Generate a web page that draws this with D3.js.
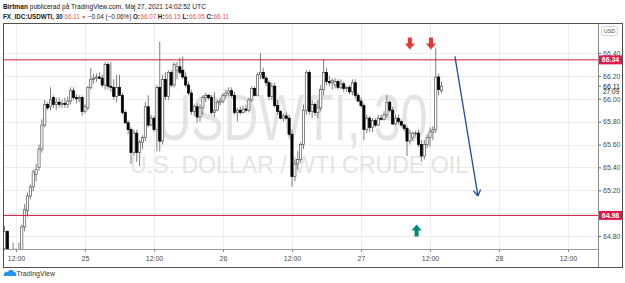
<!DOCTYPE html>
<html>
<head>
<meta charset="utf-8">
<script src="https://cdn.jsdelivr.net/npm/d3@7"></script>
<style>
  body { margin: 0; background: #fff; }
  svg { display: block; font-family: "Liberation Sans", Arial, sans-serif; }
</style>
</head>
<body>
<script>
// USDWTI 30 min candles (first bar 24 May 10:00 UTC)
const startTime = Date.UTC(2021, 4, 24, 10, 0)
const barMinutes = 30

const opens = [
  64.69, 64.84, 64.62, 64.56, 64.58, 64.62, 64.64, 64.88, 65.02, 65.15,
  65.23, 65.34, 65.40, 65.56, 65.77, 65.95, 65.93, 66.01, 65.95, 65.97,
  65.95, 65.96, 65.95, 65.98, 66.07, 66.01, 66.00, 66.01, 65.89, 65.92,
  66.10, 66.17, 66.18, 66.19, 66.18, 66.12, 66.30, 66.11, 66.10, 66.02,
  66.10, 66.03, 65.88, 65.79, 65.73, 65.53, 65.70, 65.53, 65.62, 65.66,
  65.93, 65.77, 65.83, 65.73, 66.10, 65.63, 66.17, 66.02, 66.23, 66.12,
  66.25, 66.28, 66.25, 66.19, 66.12, 66.05, 65.89, 65.93, 65.84, 65.92,
  66.01, 66.03, 66.01, 65.88, 65.90, 65.97, 65.98, 66.03, 66.05, 66.07,
  66.03, 65.88, 65.90, 65.88, 65.91, 65.90, 65.99, 66.09, 66.03, 66.21,
  66.23, 66.18, 66.14, 66.02, 66.11, 65.94, 65.89, 65.83, 65.85, 65.83,
  65.69, 65.32, 65.43, 65.47, 65.60, 65.90, 66.23, 65.89, 65.95, 65.88,
  65.92, 66.08, 66.23, 66.15, 66.14, 66.12, 66.15, 66.10, 66.13, 66.09,
  66.10, 66.06, 66.14, 66.03, 65.98, 65.94, 65.73, 65.83, 65.75, 65.81,
  65.77, 65.83, 65.82, 65.86, 65.97, 65.90, 65.78, 65.83, 65.80, 65.77,
  65.74, 65.63, 65.66, 65.70, 65.70, 65.60, 65.50, 65.60, 65.66, 65.71,
  65.73, 66.19, 66.07
]
const highs = [
  64.89, 64.85, 64.64, 64.74, 64.69, 64.74, 64.90, 65.08, 65.18, 65.25,
  65.38, 65.43, 65.60, 65.82, 65.99, 65.97, 66.10, 66.03, 66.01, 66.01,
  65.99, 66.01, 66.02, 66.10, 66.10, 66.04, 66.03, 66.03, 65.95, 66.11,
  66.27, 66.22, 66.22, 66.23, 66.21, 66.32, 66.32, 66.32, 66.17, 66.21,
  66.21, 66.05, 65.90, 65.81, 65.75, 65.73, 65.73, 65.64, 65.68, 65.97,
  66.03, 65.86, 65.85, 66.12, 66.50, 66.21, 66.23, 66.25, 66.25, 66.32,
  66.32, 66.36, 66.37, 66.23, 66.15, 66.08, 65.95, 65.96, 65.95, 66.03,
  66.05, 66.04, 66.03, 66.06, 65.99, 66.01, 66.05, 66.08, 66.10, 66.10,
  66.06, 65.92, 65.93, 65.94, 65.95, 66.01, 66.11, 66.11, 66.23, 66.40,
  66.27, 66.20, 66.16, 66.14, 66.14, 65.99, 65.90, 65.87, 65.88, 65.86,
  65.73, 65.47, 65.54, 65.62, 65.95, 66.25, 66.25, 65.99, 65.97, 65.99,
  66.12, 66.34, 66.27, 66.20, 66.18, 66.18, 66.17, 66.17, 66.15, 66.11,
  66.12, 66.17, 66.17, 66.05, 66.01, 65.96, 65.86, 65.85, 65.83, 65.83,
  65.86, 65.86, 65.89, 66.03, 65.99, 65.93, 65.86, 65.86, 65.82, 65.78,
  65.76, 65.73, 65.71, 65.72, 65.73, 65.64, 65.64, 65.69, 65.75, 65.76,
  66.44, 66.22, 66.15
]
const lows = [
  64.62, 64.58, 64.52, 64.50, 64.53, 64.56, 64.62, 64.84, 64.97, 65.12,
  65.19, 65.28, 65.37, 65.53, 65.75, 65.90, 65.90, 65.92, 65.90, 65.92,
  65.92, 65.92, 65.92, 65.95, 65.99, 65.96, 65.97, 65.85, 65.87, 65.90,
  66.08, 66.13, 66.15, 66.17, 66.10, 66.08, 66.08, 66.06, 65.99, 65.97,
  66.03, 65.86, 65.78, 65.69, 65.43, 65.50, 65.45, 65.41, 65.56, 65.63,
  65.75, 65.76, 65.71, 65.54, 65.54, 65.60, 65.99, 65.99, 66.10, 66.10,
  66.17, 66.21, 66.17, 66.10, 66.03, 65.86, 65.85, 65.79, 65.80, 65.86,
  65.97, 65.99, 65.86, 65.84, 65.89, 65.94, 65.96, 66.00, 66.02, 66.01,
  65.86, 65.80, 65.86, 65.87, 65.88, 65.88, 65.97, 66.02, 66.02, 66.17,
  66.17, 66.11, 65.99, 65.99, 65.92, 65.86, 65.82, 65.80, 65.82, 65.67,
  65.23, 65.28, 65.38, 65.44, 65.56, 65.86, 65.86, 65.83, 65.85, 65.83,
  65.89, 66.03, 66.12, 66.11, 66.08, 66.09, 66.08, 66.08, 66.06, 66.06,
  66.04, 66.03, 66.00, 65.97, 65.92, 65.64, 65.70, 65.71, 65.71, 65.75,
  65.76, 65.81, 65.81, 65.83, 65.88, 65.77, 65.77, 65.78, 65.75, 65.72,
  65.50, 65.60, 65.63, 65.67, 65.58, 65.45, 65.47, 65.57, 65.58, 65.64,
  65.70, 66.03, 66.05
]
const closes = [
  64.84, 64.62, 64.56, 64.58, 64.62, 64.64, 64.88, 65.03, 65.15, 65.23,
  65.36, 65.38, 65.56, 65.77, 65.95, 65.92, 65.99, 65.95, 65.97, 65.95,
  65.96, 65.95, 65.98, 66.07, 66.01, 66.00, 66.01, 65.89, 65.93, 66.10,
  66.17, 66.18, 66.19, 66.18, 66.12, 66.30, 66.11, 66.10, 66.02, 66.10,
  66.03, 65.88, 65.79, 65.73, 65.53, 65.70, 65.53, 65.62, 65.66, 65.93,
  65.77, 65.83, 65.73, 66.10, 65.63, 66.17, 66.02, 66.23, 66.12, 66.30,
  66.28, 66.23, 66.19, 66.12, 66.05, 65.89, 65.93, 65.84, 65.92, 66.01,
  66.03, 66.01, 65.88, 65.90, 65.97, 65.98, 66.03, 66.05, 66.07, 66.03,
  65.88, 65.90, 65.88, 65.91, 65.90, 65.99, 66.09, 66.03, 66.21, 66.23,
  66.18, 66.14, 66.02, 66.11, 65.94, 65.89, 65.83, 65.85, 65.83, 65.69,
  65.32, 65.43, 65.47, 65.60, 65.90, 66.23, 65.89, 65.95, 65.88, 65.92,
  66.08, 66.23, 66.15, 66.14, 66.16, 66.15, 66.10, 66.13, 66.09, 66.10,
  66.06, 66.14, 66.03, 65.98, 65.94, 65.73, 65.83, 65.75, 65.81, 65.77,
  65.83, 65.82, 65.86, 65.97, 65.90, 65.78, 65.83, 65.80, 65.77, 65.74,
  65.63, 65.70, 65.70, 65.70, 65.60, 65.50, 65.60, 65.66, 65.71, 65.73,
  66.19, 66.08, 66.11
]

const priceTicks = [64.8, 65.0, 65.2, 65.4, 65.6, 65.8, 66.0, 66.2, 66.4]
const timeTicks = [
  Date.UTC(2021, 4, 24, 12), Date.UTC(2021, 4, 25), Date.UTC(2021, 4, 25, 12),
  Date.UTC(2021, 4, 26), Date.UTC(2021, 4, 26, 12), Date.UTC(2021, 4, 27),
  Date.UTC(2021, 4, 27, 12), Date.UTC(2021, 4, 28), Date.UTC(2021, 4, 28, 12)
]
const timeLabels = ['12:00', '25', '12:00', '26', '12:00', '27', '12:00', '28', '12:00']

// horizontal levels drawn by the author
const levels = [66.34, 64.98]
const lastPrice = 66.11
const countdown = '27:09'

// markers: red = sell arrows, green = buy arrow, blue = projected move
const sellTimes = [Date.UTC(2021, 4, 27, 8, 30), Date.UTC(2021, 4, 27, 12, 10)]
const sellPrices = [66.43, 66.43]
const buyTimes = [Date.UTC(2021, 4, 27, 9, 40)]
const buyPrices = [64.90]
const moveTimes = [Date.UTC(2021, 4, 27, 16, 20), Date.UTC(2021, 4, 27, 20, 20)]
const movePrices = [66.37, 65.15]

const W = 625, H = 283
const plot = {left: 4, right: 598, top: 24, bottom: 249}

let svg = d3.select('body').append('svg')
    .attr('width', W)
    .attr('height', H)

svg.append('rect').attr('width', W).attr('height', H).attr('fill', '#fff')

let x = d3.scaleTime()
    .domain([new Date(timeTicks[0]), new Date(timeTicks[6])])
    .range([16, 430])
let y = d3.scaleLinear()
    .domain([64.8, 66.4])
    .range([236, 53])

// header: pieces laid out one after another
let dark = '#131722'
let red = '#ef5350'
let line1 = [
  {t: 'Birtman', b: true, c: dark},
  {t: 'publicerad på TradingView.com, Maj 27, 2021 14:02:52 UTC', c: dark}
]
let line2 = [
  {t: 'FX_IDC:USDWTI, 30', b: true, c: dark},
  {t: '66.11', c: red},
  {t: '▼', c: red, fs: 5},
  {t: '−0.04 (−0.06%)', c: dark},
  {t: 'O:', b: true, c: dark, gap: 0.6},
  {t: '66.07', c: red},
  {t: 'H:', b: true, c: dark, gap: 0.6},
  {t: '66.15', c: red},
  {t: 'L:', b: true, c: dark, gap: 0.6},
  {t: '66.05', c: red},
  {t: 'C:', b: true, c: dark, gap: 0.6},
  {t: '66.11', c: red}
]
let head = svg.append('g')
function writeLine(parts, yPos, size, gap) {
  let cx = 3
  for (let s of parts) {
    let t = head.append('text')
        .attr('x', cx).attr('y', yPos)
        .attr('fill', s.c)
        .attr('font-weight', s.b ? 'bold' : 'normal')
        .attr('font-size', s.fs || size)
        .text(s.t)
    cx += t.node().getComputedTextLength() + (s.gap !== undefined ? s.gap : gap)
  }
}
writeLine(line1, 9, 6.6, 1.8)
writeLine(line2, 18.5, 6.3, 1.6)

// grid
let grid = svg.append('g').attr('stroke', '#ededed').attr('stroke-width', 1)
grid.selectAll('.vg').data(timeTicks).join('line')
    .attr('x1', d => Math.round(x(d)) + 0.5).attr('x2', d => Math.round(x(d)) + 0.5)
    .attr('y1', plot.top).attr('y2', plot.bottom)
grid.selectAll('.hg').data(priceTicks).join('line')
    .attr('x1', plot.left).attr('x2', plot.right)
    .attr('y1', d => Math.round(y(d)) + 0.5).attr('y2', d => Math.round(y(d)) + 0.5)

// watermark
svg.append('text')
    .attr('x', 292).attr('y', 140)
    .attr('text-anchor', 'middle')
    .attr('font-size', 64)
    .attr('textLength', 271).attr('lengthAdjust', 'spacingAndGlyphs')
    .attr('fill', '#e4e4e4')
    .text('USDWTI, 30')
svg.append('text')
    .attr('x', 299).attr('y', 173)
    .attr('text-anchor', 'middle')
    .attr('font-size', 23)
    .attr('textLength', 338).attr('lengthAdjust', 'spacingAndGlyphs')
    .attr('fill', '#e4e4e4')
    .text('U.S. DOLLAR / WTI CRUDE OIL')

svg.append('clipPath').attr('id', 'plotClip')
    .append('rect')
    .attr('x', plot.left).attr('y', plot.top)
    .attr('width', plot.right - plot.left).attr('height', plot.bottom - plot.top)

// candles
let candles = opens.map((o, i) => ({
  t: new Date(startTime + i * barMinutes * 60000),
  o: o, h: highs[i], l: lows[i], c: closes[i]
}))

let cg = svg.append('g').attr('clip-path', 'url(#plotClip)')
cg.selectAll('line').data(candles).join('line')
    .attr('x1', d => x(d.t)).attr('x2', d => x(d.t))
    .attr('y1', d => y(d.h)).attr('y2', d => y(d.l))
    .attr('stroke', '#6e6e6e')
    .attr('stroke-width', 0.9)
cg.selectAll('rect').data(candles).join('rect')
    .attr('x', d => x(d.t) - 1.1)
    .attr('width', 2.2)
    .attr('y', d => y(Math.max(d.o, d.c)))
    .attr('height', d => Math.max(0.8, Math.abs(y(d.o) - y(d.c))))
    .attr('fill', d => d.c >= d.o ? '#fff' : '#000')
    .attr('stroke', d => d.c >= d.o ? '#555' : '#000')
    .attr('stroke-width', 0.7)

// horizontal levels
svg.selectAll('.lvl').data(levels).join('line')
    .attr('x1', plot.left).attr('x2', plot.right)
    .attr('y1', d => y(d)).attr('y2', d => y(d))
    .attr('stroke', '#cc1c3f')
    .attr('stroke-width', 1)

// arrows
let downArrow = 'M-2,-12H2V-6H5L0,0L-5,-6H-2Z'
let upArrow = 'M-2,12H2V6H5L0,0L-5,6H-2Z'
sellTimes.forEach((t, i) => {
  svg.append('path').attr('d', downArrow)
      .attr('transform', `translate(${x(t)},${y(sellPrices[i])})`)
      .attr('fill', '#e53935')
})
buyTimes.forEach((t, i) => {
  svg.append('path').attr('d', upArrow)
      .attr('transform', `translate(${x(t)},${y(buyPrices[i])})`)
      .attr('fill', '#00897b')
})

let x1 = x(moveTimes[0]), y1 = y(movePrices[0])
let x2 = x(moveTimes[1]), y2 = y(movePrices[1])
let ang = Math.atan2(y2 - y1, x2 - x1)
let blue = svg.append('g').attr('stroke', '#1f4e9e').attr('stroke-width', 1.3).attr('fill', 'none')
blue.append('line').attr('x1', x1).attr('y1', y1).attr('x2', x2).attr('y2', y2)
for (let s of [-0.55, 0.55]) {
  blue.append('line')
      .attr('x1', x2).attr('y1', y2)
      .attr('x2', x2 - 7 * Math.cos(ang + s))
      .attr('y2', y2 - 7 * Math.sin(ang + s))
}

// price axis (65.00 label sits under the 64.98 level tag)
let yAxis = svg.append('g')
    .attr('transform', `translate(${plot.right},0)`)
    .call(d3.axisRight(y).tickValues(priceTicks)
      .tickFormat(d => Math.abs(d - levels[1]) < 0.05 ? '' : d3.format('.2f')(d))
      .tickSize(3).tickPadding(2))
yAxis.select('.domain').remove()
yAxis.selectAll('line').attr('stroke', '#666')
yAxis.selectAll('text').attr('font-size', 7).attr('fill', '#4a4a4a').attr('font-family', null)

// time axis
let xAxis = svg.append('g')
    .attr('transform', `translate(0,${plot.bottom})`)
    .call(d3.axisBottom(x).tickValues(timeTicks.map(d => new Date(d)))
      .tickFormat((d, i) => timeLabels[i]).tickSize(3).tickPadding(4))
xAxis.select('.domain').remove()
xAxis.selectAll('line').attr('stroke', '#888')
xAxis.selectAll('text').attr('font-size', 7).attr('fill', '#4a4a4a').attr('font-family', null)

// level tags on the price scale
let lab = svg.append('g')
lab.selectAll('rect').data(levels).join('rect')
    .attr('x', plot.right + 1).attr('y', d => y(d) - 4.5)
    .attr('width', 23).attr('height', 9)
    .attr('fill', '#e3174f')
lab.selectAll('text').data(levels).join('text')
    .attr('x', plot.right + 12.5).attr('y', d => y(d))
    .attr('dy', '0.35em')
    .attr('text-anchor', 'middle')
    .attr('font-size', 7)
    .attr('font-weight', 'bold')
    .attr('fill', '#fff')
    .text(d => d.toFixed(2))

// last price with bar countdown
svg.append('rect')
    .attr('x', plot.right + 1).attr('y', y(lastPrice) - 4.5)
    .attr('width', 23).attr('height', 14)
    .attr('fill', '#fff')
svg.append('line')
    .attr('x1', plot.right).attr('x2', plot.right + 3)
    .attr('y1', y(lastPrice)).attr('y2', y(lastPrice))
    .attr('stroke', '#666')
svg.append('text')
    .attr('x', plot.right + 5).attr('y', y(lastPrice)).attr('dy', '0.35em')
    .attr('font-size', 7).attr('fill', dark)
    .text(lastPrice.toFixed(2))
svg.append('text')
    .attr('x', plot.right + 5).attr('y', y(lastPrice) + 6).attr('dy', '0.35em')
    .attr('font-size', 6.5).attr('fill', dark)
    .text(countdown)

// USD currency badge
svg.append('rect')
    .attr('x', 601.5).attr('y', 26.5).attr('width', 16).attr('height', 9).attr('rx', 2)
    .attr('fill', '#fff').attr('stroke', '#c8c8c8').attr('stroke-width', 0.8)
svg.append('text')
    .attr('x', 609.5).attr('y', 31).attr('dy', '0.35em').attr('text-anchor', 'middle')
    .attr('font-size', 5.5).attr('fill', '#4a4a4a')
    .text('USD')

// frame and separators
svg.append('line')
    .attr('x1', 3).attr('x2', plot.right).attr('y1', plot.bottom + 0.5).attr('y2', plot.bottom + 0.5)
    .attr('stroke', '#9a9a9a')
svg.append('line')
    .attr('x1', plot.right + 0.5).attr('x2', plot.right + 0.5).attr('y1', 23).attr('y2', 268)
    .attr('stroke', '#8a8a8a')
svg.append('rect')
    .attr('x', 3.5).attr('y', 23.5).attr('width', 619).attr('height', 244)
    .attr('fill', 'none').attr('stroke', '#505050')

// TradingView footer
let foot = svg.append('g').attr('transform', 'translate(4,269)')
foot.append('path')
    .attr('d', 'M0,7 C-1,4 2,2 4,3 C5,0 9,0 10,3 C12,3 13,5 12,7 Z')
    .attr('fill', '#2196f3')
foot.append('text')
    .attr('x', 12.5).attr('y', 7)
    .attr('font-size', 7).attr('fill', '#333')
    .text('TradingView')
</script>
</body>
</html>
